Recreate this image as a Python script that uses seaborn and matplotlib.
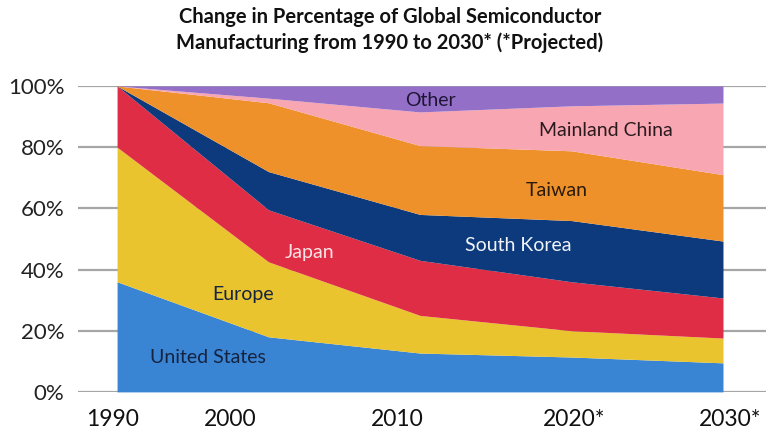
import numpy as np
import matplotlib
matplotlib.use("Agg")
import matplotlib.pyplot as plt
import seaborn as sns

# shares of global semiconductor manufacturing (%)
years = ["1990", "2000", "2010", "2020*", "2030*"]
united_states = [36, 18, 12.7, 11.4, 9.5]
europe = [44, 24.5, 12.3, 8.6, 8.1]
japan = [20, 17, 18, 16, 13.1]
south_korea = [0, 12.5, 15, 20, 18.6]
taiwan = [0, 22.5, 22.5, 22.8, 21.7]
mainland_china = [0, 1.5, 11, 14.7, 23.4]
other = [0, 4, 8.5, 6.5, 5.6]

series_names = ["United States", "Europe", "Japan", "South Korea",
                "Taiwan", "Mainland China", "Other"]
colors = ["#3A84D4", "#E9C42F", "#DF2D45", "#0C3A7C",
          "#EE912B", "#F8A6B1", "#936FC8"]

sns.set_theme(style="whitegrid")
plt.rcParams["font.family"] = ["Lato", "DejaVu Sans"]

fig = plt.figure(figsize=(7.66, 4.34), dpi=100)
ax = fig.add_axes([0.102, 0.097, 0.898, 0.705])

x = np.arange(len(years))
ax.stackplot(x, united_states, europe, japan, south_korea, taiwan,
             mainland_china, other, colors=colors, linewidth=0, zorder=2)

ax.set_ylim(0, 100)
ax.set_xlim(-0.257, 4.284)
ax.set_yticks([0, 20, 40, 60, 80, 100])
ax.set_yticklabels([f"{v}%" for v in [0, 20, 40, 60, 80, 100]],
                   fontsize=16, color="#222222")
# tick labels sit a little off the data points in the original
ax.set_xticks([-0.03, 0.75, 1.85, 3.02, 4.05])
ax.set_xticklabels(years, fontsize=16.5, color="#111111")
ax.tick_params(axis="y", length=0, pad=10)
ax.tick_params(axis="x", length=0, pad=12)
ax.grid(axis="y", color="#A6A6A6", linewidth=1.6, zorder=1)
ax.grid(axis="x", visible=False)
for s in ax.spines.values():
    s.set_visible(False)
ax.set_axisbelow(True)

# in-area labels
labels = [
    ("United States", 0.60, 11.1, "#15233F"),
    ("Europe", 0.83, 31.7, "#15233F"),
    ("Japan", 1.27, 45.4, "#FBE3E6"),
    ("South Korea", 2.65, 48.0, "#F0F3F8"),
    ("Taiwan", 2.90, 65.7, "#2A1A0A"),
    ("Mainland China", 3.23, 85.3, "#2A1A1E"),
    ("Other", 2.07, 95.4, "#1E1535"),
]
for text, lx, ly, c in labels:
    ax.text(lx, ly, text, ha="center", va="center", fontsize=14, color=c, zorder=3)

fig.text(0.509, 0.931, "Change in Percentage of Global Semiconductor\n"
         "Manufacturing from 1990 to 2030* (*Projected)",
         ha="center", va="center", fontsize=14.5, fontweight="bold",
         color="#111111", linespacing=1.3)

fig.savefig("out.png", dpi=100)
